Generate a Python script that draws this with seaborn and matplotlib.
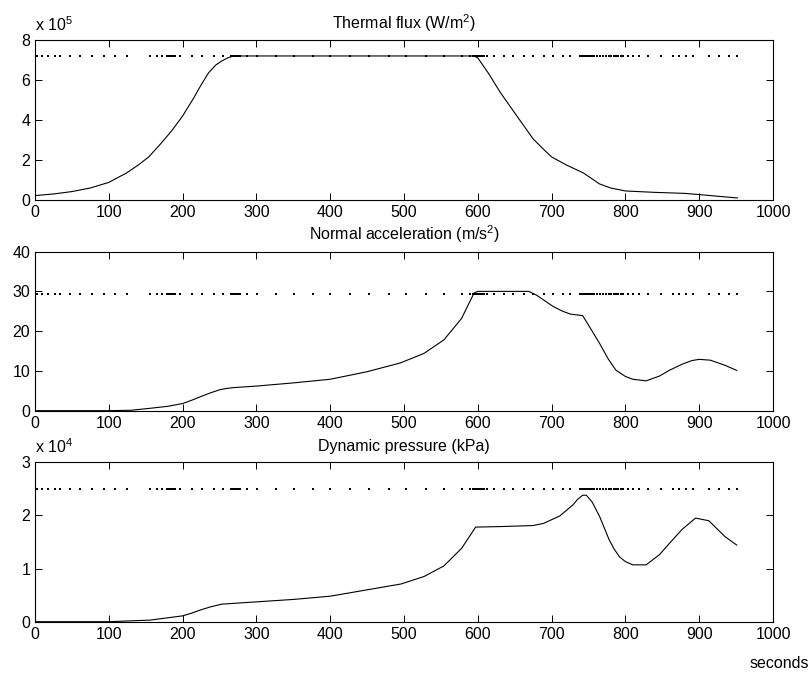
import numpy as np
import pandas as pd
import matplotlib
matplotlib.use("Agg")
import matplotlib.pyplot as plt
import seaborn as sns

# ---- data ----
# thermal flux (x 1e5 W/m2)
t_flux = [0, 25, 50, 75, 100, 124, 140, 154, 170, 185, 200, 215, 225, 235, 245, 253, 262,
          269, 300, 400, 500, 595, 600, 615, 630, 650, 675, 690, 700, 720, 743, 755, 765,
          780, 800, 840, 880, 900, 930, 952]
flux = [0.22, 0.3, 0.42, 0.6, 0.88, 1.35, 1.75, 2.15, 2.8, 3.45, 4.2, 5.1, 5.75, 6.35, 6.75,
        6.95, 7.12, 7.2, 7.2, 7.2, 7.2, 7.2, 7.1, 6.3, 5.4, 4.35, 3.05, 2.5, 2.15, 1.75, 1.35,
        1.05, 0.8, 0.6, 0.45, 0.38, 0.33, 0.27, 0.17, 0.1]
flux_limit = 7.2

# normal acceleration (m/s2)
t_acc = [0, 100, 130, 156, 180, 200, 212, 224, 238, 251, 260, 269, 301, 351, 400, 450, 495,
         527, 554, 578, 588, 595, 600, 669, 680, 702, 715, 725, 742, 750, 765, 777, 787, 800,
         810, 828, 846, 860, 877, 890, 900, 915, 935, 951]
acc = [0, 0, 0.1, 0.6, 1.1, 1.8, 2.6, 3.5, 4.5, 5.3, 5.6, 5.8, 6.2, 7.0, 7.9, 9.8, 12.0,
       14.4, 17.8, 23.2, 27.0, 29.6, 30.0, 30.0, 29.0, 26.2, 25.0, 24.3, 23.9, 21.5, 16.9,
       12.9, 10.2, 8.6, 7.9, 7.5, 8.7, 10.2, 11.7, 12.6, 12.9, 12.7, 11.4, 10.1]
acc_limit = 29.43

# dynamic pressure (x 1e4 Pa)
t_q = [0, 100, 156, 200, 212, 224, 238, 253, 269, 351, 400, 450, 496, 527, 554, 578, 597,
       630, 675, 689, 711, 729, 735, 742, 747, 755, 765, 778, 785, 792, 800, 810, 828, 846,
       860, 877, 895, 913, 935, 951]
q = [0, 0, 0.03, 0.11, 0.16, 0.22, 0.28, 0.33, 0.345, 0.42, 0.48, 0.6, 0.71, 0.85, 1.05,
     1.38, 1.78, 1.79, 1.81, 1.85, 1.99, 2.2, 2.3, 2.38, 2.38, 2.25, 1.98, 1.54, 1.36, 1.22,
     1.13, 1.07, 1.07, 1.26, 1.48, 1.74, 1.95, 1.9, 1.6, 1.44]
q_limit = 2.5

# sample times of the limit lines (drawn as dots)
t_nodes = [0, 2, 9, 18, 27, 34, 48, 61, 77, 93, 109, 124, 156, 165, 172, 179, 181, 183,
           185, 186, 188, 190, 197, 213, 226, 242, 255, 265, 268, 270, 271, 272, 273, 275,
           278, 287, 301, 326, 351, 376, 400, 427, 452, 479, 503, 530, 554, 579, 590, 593,
           595, 597, 598, 600, 602, 604, 606, 609, 612, 622, 635, 648, 662, 675, 689, 702,
           716, 725, 738, 740, 741, 742, 743, 744, 745, 746, 748, 750, 752, 755, 758, 762,
           765, 770, 774, 778, 781, 784, 787, 790, 794, 797, 803, 810, 819, 830, 848, 864,
           873, 882, 891, 913, 927, 940, 951]

titles = ["Thermal flux (W/m$^2$)", "Normal acceleration (m/s$^2$)", "Dynamic pressure (kPa)"]
exponents = ["x 10$^5$", None, "x 10$^4$"]
ylims = [(0, 8), (0, 40), (0, 3)]
yticks = [[0, 2, 4, 6, 8], [0, 10, 20, 30, 40], [0, 1, 2, 3]]
xticks = [0, 100, 200, 300, 400, 500, 600, 700, 800, 900, 1000]

panels = [(t_flux, flux, flux_limit), (t_acc, acc, acc_limit), (t_q, q, q_limit)]

sns.set_style("ticks")
plt.rcParams["font.family"] = ["Liberation Sans", "DejaVu Sans"]
plt.rcParams["mathtext.default"] = "regular"
plt.rcParams["font.size"] = 11.5
plt.rcParams["text.color"] = "black"
plt.rcParams["xtick.color"] = "black"
plt.rcParams["ytick.color"] = "black"
plt.rcParams["axes.edgecolor"] = "black"
plt.rcParams["xtick.direction"] = "in"
plt.rcParams["ytick.direction"] = "in"

fig = plt.figure(figsize=(8.11, 6.74), dpi=100)
positions = [[0.0432, 0.7033, 0.910, 0.2374],
             [0.0432, 0.3907, 0.910, 0.2360],
             [0.0432, 0.0776, 0.910, 0.2365]]

for i, (t, y, lim) in enumerate(panels):
    ax = fig.add_axes(positions[i])
    df = pd.DataFrame({"t": t, "y": y})
    sns.lineplot(data=df, x="t", y="y", ax=ax, color="black", linewidth=0.8)
    lim_df = pd.DataFrame({"t": t_nodes, "y": [lim] * len(t_nodes)})
    sns.scatterplot(data=lim_df, x="t", y="y", ax=ax, color="black", s=1.2,
                    linewidth=0, marker="s")
    ax.set_xlim(0, 1000)
    ax.set_ylim(*ylims[i])
    ax.set_xticks(xticks)
    ax.set_yticks(yticks[i])
    ax.set_xlabel("")
    ax.set_ylabel("")
    ax.set_title(titles[i], fontsize=11.5, pad=8)
    ax.tick_params(top=True, right=True, length=5, width=0.7, labelsize=11.5, pad=3.5)
    for sp in ax.spines.values():
        sp.set_linewidth(0.8)
    if exponents[i]:
        ax.annotate(exponents[i], xy=(0, 1), xycoords="axes fraction",
                    xytext=(0, 6.5), textcoords="offset points",
                    ha="left", va="baseline", fontsize=11.5)

fig.text(750 / 811, 6 / 674, "seconds", ha="left", va="baseline", fontsize=11.5)

plt.savefig("out.png", dpi=100)
